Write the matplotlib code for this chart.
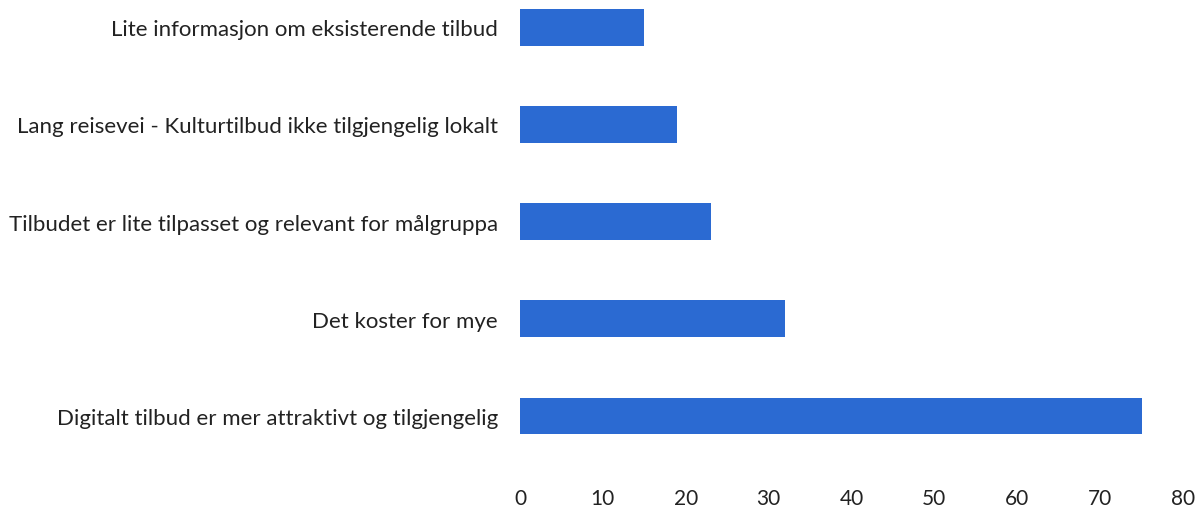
import matplotlib
matplotlib.use("Agg")
import matplotlib.pyplot as plt

categories = [
    "Digitalt tilbud er mer attraktivt og tilgjengelig",
    "Det koster for mye",
    "Tilbudet er lite tilpasset og relevant for målgruppa",
    "Lang reisevei - Kulturtilbud ikke tilgjengelig lokalt",
    "Lite informasjon om eksisterende tilbud",
]
values = [75, 32, 23, 19, 15]
xticks = [0, 10, 20, 30, 40, 50, 60, 70, 80]

plt.rcParams["font.family"] = ["Lato", "DejaVu Sans"]

fig = plt.figure(figsize=(11.98, 5.10), dpi=100)
ax = fig.add_axes([520 / 1198, 40 / 510, (1183 - 520) / 1198, 470 / 510])

ypos = list(range(len(categories)))
ax.barh(ypos, values, height=0.38, color="#2B6AD2")

ax.set_xlim(0, 80)
ax.set_ylim(-0.545, 4.29)
ax.set_yticks(ypos)
ax.set_yticklabels(categories, fontsize=16, color="#222222")
ax.set_xticks(xticks)
ax.set_xticklabels([str(t) for t in xticks], fontsize=15, color="#222222")
ax.tick_params(axis="both", length=0)
ax.tick_params(axis="y", pad=16)
ax.tick_params(axis="x", pad=14)
for s in ax.spines.values():
    s.set_visible(False)

fig.savefig("out.png", dpi=100)
